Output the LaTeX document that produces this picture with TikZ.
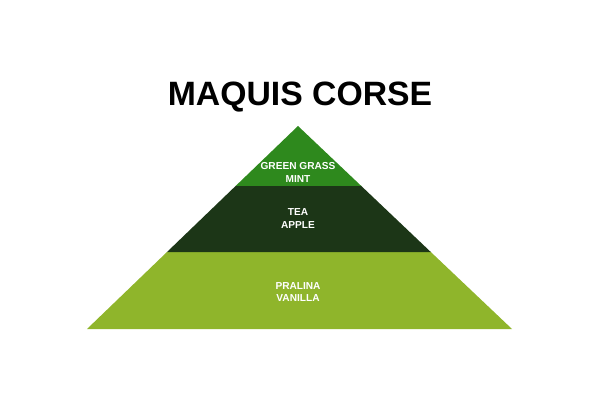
\documentclass[tikz,border=0pt]{standalone}
\usepackage{fontspec}
\setmainfont{Liberation Sans}
\usetikzlibrary{positioning}
\definecolor{grassgreen}{RGB}{46,137,29}
\definecolor{teagreen}{RGB}{28,54,23}
\definecolor{vanillagreen}{RGB}{143,181,43}
\tikzset
{
    layertext/.style = {text=white, align=center, inner sep=0pt, font=\bfseries\fontsize{7.2}{8.9}\selectfont},
    titletext/.style = {inner sep=0pt, font=\bfseries\fontsize{24}{28}\selectfont}
}

\begin{document}
\begin{tikzpicture}[x=0.025cm, y=-0.025cm]
	\useasboundingbox (0,0) rectangle (600,420);
	% pyramid corners
	\coordinate (apex) at (298,126);
	\coordinate (topL) at (235.6,186);
	\coordinate (topR) at (361.3,186);
	\coordinate (midL) at (167,252);
	\coordinate (midR) at (430.8,252);
	\coordinate (baseL) at (87,329);
	\coordinate (baseR) at (512,329);
	% layers
	\fill[vanillagreen] (midL) -- (baseL) -- (baseR) -- (midR) -- cycle;
	\fill[teagreen] (topL) -- (midL) -- (midR) -- (topR) -- cycle;
	\fill[grassgreen] (apex) -- (topL) -- (topR) -- cycle;
	% texts
	\node[titletext] (title) at (300,97.5) {MAQUIS CORSE};
	\node[layertext] (top) at (298,172.5) {GREEN GRASS\\MINT};
	\node[layertext] (mid) at (298,218.5) {TEA\\APPLE};
	\node[layertext] (base) at (298,292) {PRALINA\\VANILLA};
\end{tikzpicture}
\end{document}
